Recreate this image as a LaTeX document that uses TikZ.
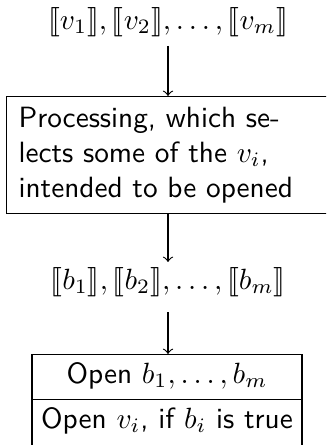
\documentclass[tikz,border=0pt]{standalone}
\usepackage{stmaryrd}
\newdimen\pxu
\pxu=0.3415pt
\tikzset{
  flow/.style={draw, line width=0.4pt, ->},
  mathline/.style={inner sep=0pt},
  txt/.style={inner sep=0pt, font=\sffamily},
  boxed/.style={draw, line width=0.4pt, rectangle, inner sep=0pt, font=\sffamily},
}
\begin{document}
\begin{tikzpicture}[x=\pxu, y=-\pxu]
  \clip (0,0) rectangle (326,445);
  % input commitments
  \node[mathline] (v) at (168,22) {$\llbracket v_1\rrbracket,\llbracket v_2\rrbracket,\ldots,\llbracket v_m\rrbracket$};
  % processing stage (its right side runs past the edge)
  \node[boxed, anchor=north west, minimum width=340*\pxu, minimum height=117*\pxu] (proc) at (6,96) {};
  \node[txt, anchor=west, align=left] (proctext) at (18,155)
        {Processing, which se-\\lects some of the $v_i$,\\intended to be opened};
  % bit commitments
  \node[mathline] (b) at (168,282) {$\llbracket b_1\rrbracket,\llbracket b_2\rrbracket,\ldots,\llbracket b_m\rrbracket$};
  % opening steps
  \node[boxed, anchor=north, minimum width=270*\pxu, text height=29*\pxu, text depth=16*\pxu] (open1) at (167,354)
        {Open $b_1,\ldots,b_m$};
  \node[boxed, anchor=north, minimum width=270*\pxu, text height=29*\pxu, text depth=31*\pxu] (open2) at (167,399)
        {Open $v_i$, if $b_i$ is true};
  % connectors
  \coordinate (a1) at (168,46);
  \coordinate (a2) at (168,213);
  \coordinate (a2end) at (168,262);
  \coordinate (a3) at (168,312);
  \draw[flow] (a1) -- (a1 |- proc.north);
  \draw[flow] (a2 |- proc.south) -- (a2end);
  \draw[flow] (a3) -- (a3 |- open1.north);
\end{tikzpicture}
\end{document}
